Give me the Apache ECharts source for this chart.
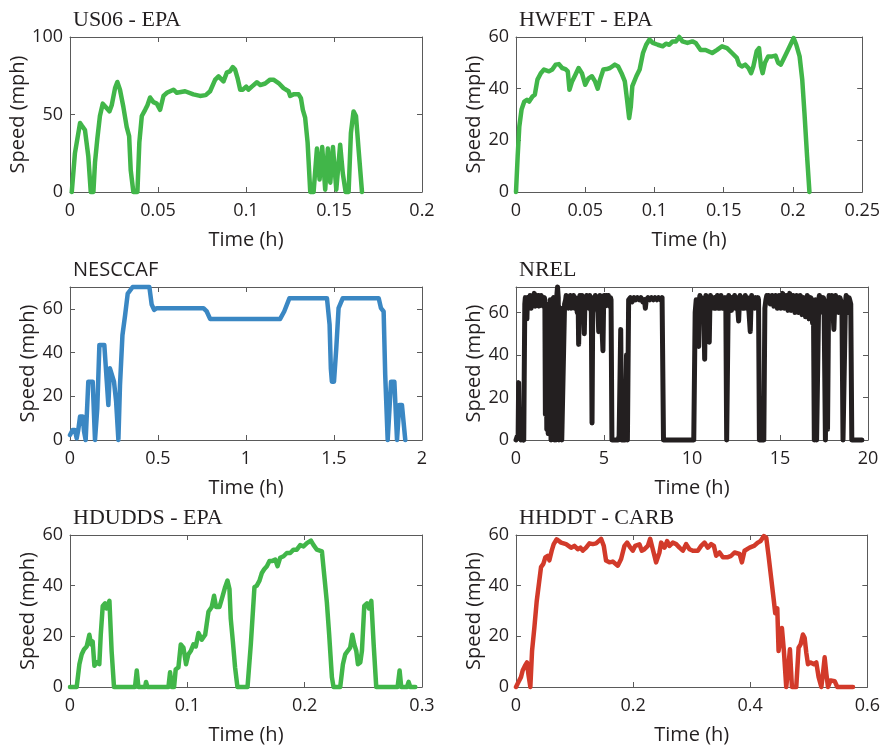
<!DOCTYPE html>
<html>
<head>
<meta charset="utf-8">
<script src="https://cdn.jsdelivr.net/npm/echarts@6/dist/echarts.min.js"></script>
<style>
  html, body { margin: 0; padding: 0; background: #fff; }
  #chart { width: 883px; height: 746px; }
</style>
</head>
<body>
<div id="chart"></div>
<script>
// Drive-cycle speed traces: [time (h), speed (mph)]
const us06 = [
  [0.001,0],[0.0028,25],[0.0057,44.5],[0.0066,43],[0.0085,40],[0.0095,39],[0.0104,23],[0.0118,0],[0.0133,0],
  [0.0142,19],[0.0155,34],[0.017,49],[0.0186,57],[0.0209,54],[0.0224,52],[0.0237,56],[0.0256,67],[0.0269,71],
  [0.0284,66],[0.0303,55],[0.0322,42],[0.0336,36],[0.0345,14],[0.036,0],[0.0383,0],[0.0394,32],[0.0408,49],
  [0.0427,53],[0.044,56],[0.0455,61],[0.0474,58],[0.0493,57],[0.0512,53],[0.0531,62],[0.055,64],[0.0588,66],
  [0.0607,64],[0.0654,65],[0.0701,63],[0.0739,62],[0.0771,62.5],[0.0796,65],[0.0825,72.5],[0.0844,74.6],
  [0.0872,71.4],[0.0891,77],[0.091,78],[0.0925,80.6],[0.0938,79],[0.0952,73.5],[0.0967,66],[0.0982,66],
  [0.1001,68],[0.1014,66],[0.1033,68],[0.1062,70.8],[0.1081,69],[0.1109,70],[0.1137,72.5],[0.1156,72.5],
  [0.1185,70.3],[0.1213,67],[0.1242,65],[0.1251,62],[0.127,63],[0.1299,63],[0.1312,60.6],[0.1323,53],
  [0.1336,48],[0.135,32],[0.1365,0],[0.1384,0],[0.1403,28],[0.1418,8],[0.1433,29],[0.145,1.5],[0.1465,28],
  [0.1479,6],[0.1494,29],[0.1513,1.5],[0.1535,30.5],[0.155,12],[0.1566,0],[0.1583,0],[0.1596,38],[0.1611,52],
  [0.1625,49],[0.164,27],[0.1659,0]
];

const hwfet = [
  [0,0],[0.0012,13.8],[0.0024,25.4],[0.004,31.9],[0.006,35],[0.0079,35.7],[0.0095,35],[0.0119,37],[0.0136,37.7],
  [0.0155,43.5],[0.0179,46],[0.0202,47.4],[0.0238,46.7],[0.0262,47.4],[0.0286,49.3],[0.031,49.5],[0.0333,48],
  [0.0357,47.6],[0.0374,46.7],[0.0386,39.6],[0.0405,42.8],[0.0429,45.4],[0.0452,48],[0.0476,46],[0.05,41.5],
  [0.0524,44],[0.0548,44.8],[0.0571,42.8],[0.059,40],[0.0607,43.5],[0.0631,47.4],[0.0655,47.6],[0.0679,48],
  [0.0714,49.3],[0.0738,48.6],[0.0762,46],[0.0786,42.8],[0.0802,35.7],[0.0817,28.6],[0.0829,33],[0.084,41],
  [0.0869,44.8],[0.0893,47.4],[0.0917,53.8],[0.094,57],[0.0964,59],[0.0988,57.7],[0.1024,57],[0.106,56.4],
  [0.1083,57.4],[0.1107,57],[0.1131,58.3],[0.1155,58.3],[0.1179,60],[0.1202,58.3],[0.1238,57.7],[0.1274,58.3],
  [0.1298,57.7],[0.1333,55],[0.1369,55],[0.1417,53.8],[0.1452,55],[0.1488,56.4],[0.1524,55.7],[0.156,53.8],
  [0.1595,51.9],[0.1612,49.3],[0.1631,48.6],[0.1655,49.3],[0.1679,48],[0.1698,46],[0.1714,48.6],[0.1738,54.5],
  [0.1755,55.7],[0.1769,48.6],[0.1781,46],[0.1798,50],[0.1821,52.5],[0.185,52.5],[0.1874,52.8],[0.1893,50],
  [0.1912,49.3],[0.1936,51.9],[0.1964,55],[0.1988,57.7],[0.2005,59.6],[0.2024,57],[0.2048,52.5],[0.2067,43.5],
  [0.2083,30.6],[0.2102,13.8],[0.2119,0]
];

const nesccaf = [
  [0,2.3],[0.015,4.6],[0.028,4.6],[0.038,0.8],[0.047,4.6],[0.057,10.7],[0.072,10.7],[0.08,3.8],[0.089,0],
  [0.104,26.7],[0.129,26.7],[0.142,0],[0.155,14.5],[0.167,43.5],[0.195,43.5],[0.209,26.7],[0.218,16],
  [0.227,32.8],[0.237,32.8],[0.25,26.7],[0.262,17.6],[0.275,0],[0.284,25],[0.298,48],[0.313,57],[0.328,67],
  [0.356,70],[0.451,70],[0.464,62],[0.478,59.5],[0.493,60.3],[0.758,60.3],[0.777,58.8],[0.796,55.4],
  [1.194,55.4],[1.217,58.8],[1.247,64.9],[1.46,64.9],[1.475,52.7],[1.482,32.8],[1.488,26.7],[1.5,26.7],
  [1.513,42],[1.526,60.3],[1.55,64.9],[1.754,64.9],[1.767,60.3],[1.782,58.8],[1.791,29.8],[1.805,0],
  [1.824,26.7],[1.843,26.7],[1.858,0],[1.871,16],[1.886,16],[1.905,0]
];

const nrel = [
  [0,0],[0.08,2],[0.12,1],[0.15,27],[0.19,2],[0.28,0],[0.36,1],[0.44,0],
  [0.5,64],[0.53,67],[0.56,62],[0.59,66],[0.62,57],[0.65,67],[0.68,64],[0.71,67],[0.74,63],[0.77,66],[0.8,68],
  [0.83,64],[0.86,62],[0.89,67],[0.92,65],[0.95,68],[0.98,65],[1.01,67],[1.04,69],[1.07,64],[1.1,63],[1.13,67],
  [1.16,66],[1.19,68],[1.22,64],[1.25,67],[1.28,68],[1.31,63],[1.34,65],[1.37,67],[1.4,66],[1.43,68],[1.46,64],
  [1.49,66],[1.52,67],[1.55,63],[1.58,65],[1.61,67],
  [1.64,66],[1.67,12],[1.71,60],[1.75,5],[1.79,62],[1.83,3],[1.87,64],[1.91,30],[1.95,66],[1.99,0],[2.04,0],
  [2.08,66],[2.13,67],[2.18,0],[2.23,65],[2.27,0],[2.32,68],[2.36,72],[2.4,67],[2.44,0],[2.5,0],[2.55,62],
  [2.6,0],[2.7,0],[2.76,64],
  [2.82,66],[2.85,68],[2.88,63],[2.91,66],[2.94,67],[2.97,62],[3.0,64],[3.03,67],[3.06,66],[3.09,68],[3.12,62],
  [3.15,66],[3.18,67],[3.21,63],[3.24,65],[3.27,68],[3.3,67],[3.33,62],[3.36,64],[3.39,67],[3.42,67],[3.45,63],
  [3.48,60],[3.53,66],[3.56,45],[3.6,64],[3.63,68],[3.66,67],[3.69,62],[3.72,65],[3.75,68],[3.78,67],[3.81,63],
  [3.84,62],[3.88,50],[3.92,66],[3.95,63],[3.98,67],[4.01,68],[4.04,64],[4.07,66],[4.1,67],[4.13,62],[4.16,65],
  [4.19,68],[4.22,67],[4.25,63],[4.28,60],[4.32,8],[4.36,62],[4.39,66],[4.42,67],[4.45,62],[4.48,65],[4.51,68],
  [4.54,67],[4.57,64],[4.6,63],[4.66,60],[4.7,51],[4.74,64],[4.77,68],[4.8,67],[4.83,63],[4.86,58],[4.94,42],
  [4.98,65],[5.01,68],[5.04,67],[5.07,63],[5.1,65],[5.13,68],[5.16,67],[5.19,64],[5.22,66],[5.25,68],[5.28,67],
  [5.31,63],[5.34,65],[5.37,67],[5.4,66],[5.45,0],
  [5.8,0],[5.86,2],[5.95,52],[6.0,0],[6.2,0],[6.28,40],[6.33,0],[6.4,66],[6.5,67],[6.6,65],[6.7,67],[6.8,66],
  [6.9,67],[7.0,66],[7.1,67],[7.2,65],[7.3,66],[7.35,62],[7.4,66],[7.5,67],[7.6,66],[7.7,67],[7.8,66],[7.9,67],
  [8.0,66],[8.1,67],[8.2,66],[8.3,67],[8.38,0],
  [10.1,0],[10.18,60],[10.24,66],[10.3,60],[10.38,44],[10.42,66],[10.45,68],[10.48,62],[10.51,66],[10.54,67],
  [10.57,63],[10.6,61],[10.66,66],[10.72,38],[10.76,64],[10.79,68],[10.82,67],[10.85,63],[10.88,62],[10.91,67],
  [10.94,66],[10.98,46],[11.02,65],[11.05,68],[11.08,67],[11.11,62],[11.14,63],[11.17,67],[11.2,67],[11.23,63],
  [11.26,62],[11.29,67],[11.32,66],[11.35,62],[11.38,64],[11.41,67],[11.44,68],[11.47,63],[11.5,62],[11.53,67],
  [11.56,67],[11.59,62],[11.62,64],[11.65,68],[11.68,67],[11.71,63],[11.74,62],[11.77,67],[11.8,66],[11.83,62],
  [11.86,64],[11.89,67],[11.92,66],[11.97,0],[12.02,0],[12.06,66],[12.09,68],[12.12,63],[12.15,66],[12.18,67],
  [12.21,63],[12.24,61],[12.27,67],[12.3,66],[12.33,62],[12.36,64],[12.39,67],[12.42,68],[12.45,63],[12.48,62],
  [12.51,66],[12.54,67],[12.57,63],[12.6,62],[12.65,56],[12.7,66],[12.73,68],[12.76,63],[12.79,66],[12.82,67],
  [12.85,63],[12.88,62],[12.91,67],[12.94,66],[12.97,62],[13.0,64],[13.03,68],[13.06,67],[13.09,63],[13.12,62],
  [13.15,67],[13.18,66],[13.21,63],[13.24,60],[13.31,51],[13.36,65],[13.39,68],[13.42,67],[13.45,63],[13.48,64],
  [13.51,67],[13.54,66],[13.57,62],[13.6,63],[13.63,67],[13.66,67],[13.69,63],[13.72,65],[13.75,67],[13.78,66],
  [13.83,0],[14.08,0],[14.14,62],[14.2,66],
  [14.25,68],[14.3,65],[14.35,68],[14.4,67],[14.45,64],[14.5,66],[14.55,68],[14.6,67],[14.65,63],[14.7,65],
  [14.75,68],[14.8,67],[14.85,62],[14.9,64],[14.95,68],[15.0,67],[15.05,62],[15.1,65],[15.15,69],[15.2,68],
  [15.25,62],[15.3,63],[15.35,68],[15.4,67],[15.45,61],[15.5,64],[15.55,69],[15.6,69],[15.65,61],[15.7,62],
  [15.75,68],[15.8,67],[15.85,60],[15.9,63],[15.95,68],[16.0,68],[16.05,60],[16.1,61],[16.15,68],[16.2,67],
  [16.25,59],[16.3,60],[16.35,67],[16.4,66],[16.45,58],[16.5,59],[16.55,68],[16.6,67],[16.65,57],[16.7,58],
  [16.75,67],[16.8,66],[16.85,55],[16.9,64],[16.95,0],[17.02,66],
  [17.08,0],[17.14,0],[17.2,66],[17.24,68],[17.28,60],[17.31,66],[17.35,67],[17.38,61],[17.42,62],[17.46,67],
  [17.5,66],[17.58,0],[17.64,64],[17.7,5],[17.76,63],[17.79,68],[17.82,67],[17.86,61],[17.9,62],[17.94,68],
  [17.98,66],[18.06,52],[18.12,66],[18.16,68],[18.2,61],[18.24,66],[18.28,67],[18.32,60],[18.36,60],[18.4,67],
  [18.44,66],[18.48,61],[18.52,62],[18.58,0],[18.66,0],[18.72,65],[18.76,68],[18.8,67],[18.84,61],[18.88,60],
  [18.92,67],[18.96,66],[19.02,64],[19.08,0],[19.65,0]
];

const hdudds = [
  [0,0],[0.0057,0],[0.008,9],[0.01,12.9],[0.0119,14.8],[0.0142,16],[0.0165,20.6],[0.018,16.8],[0.0193,18],
  [0.0208,8.4],[0.0227,9.7],[0.025,9],[0.0262,20.6],[0.0279,32],[0.0299,33],[0.0313,31],[0.0336,34],
  [0.0355,14],[0.0375,0],[0.0483,0],[0.0498,0.6],[0.0512,0],[0.0554,0],[0.0569,6.5],[0.0583,0],[0.064,0],
  [0.0648,2],[0.066,0],[0.0839,0],[0.0853,5.8],[0.0867,0],[0.0887,0],[0.0901,7],[0.0924,7.7],[0.0944,16.8],
  [0.0967,15.5],[0.0989,9],[0.1009,12.9],[0.1029,14.2],[0.1052,16.8],[0.1072,16],[0.1095,21.3],[0.1123,18.7],
  [0.1152,20.6],[0.118,29.7],[0.1208,31.6],[0.1228,36],[0.1245,31.6],[0.1274,31.6],[0.1294,34.8],[0.1322,39.4],
  [0.1342,42],[0.1359,38.7],[0.137,27],[0.1388,18],[0.1407,7.7],[0.1427,0],[0.1513,0],[0.1541,16.8],
  [0.1572,39.4],[0.1592,40],[0.1615,42],[0.1635,45],[0.1655,46.5],[0.1678,47.7],[0.17,49.7],[0.172,49.7],
  [0.1749,50.3],[0.1769,47.7],[0.1791,51],[0.182,51.6],[0.1848,52.9],[0.1877,52.9],[0.1905,54.2],[0.1933,54.2],
  [0.1962,56],[0.199,55.5],[0.2019,56.8],[0.2053,57.8],[0.2076,56],[0.2104,54.2],[0.2147,53.5],[0.217,42.6],
  [0.2189,33.5],[0.2209,20.6],[0.2232,3.9],[0.2246,0],[0.2303,0],[0.2326,9],[0.2346,12.9],[0.2366,14.2],
  [0.2388,15.5],[0.2406,20.6],[0.2423,16.8],[0.244,14.2],[0.2454,9],[0.2474,9.7],[0.2488,14.2],[0.2508,32],
  [0.2531,33],[0.2548,31],[0.2568,34],[0.2588,16.8],[0.261,0],[0.2715,0],[0.273,0.6],[0.2744,0],[0.2792,0],
  [0.2809,6.5],[0.2823,0],[0.2872,0],[0.2886,2],[0.29,0],[0.2943,0]
];

const hhddt = [
  [0,0],[0.004,1.9],[0.0085,3.9],[0.0114,6.5],[0.0154,8.4],[0.0188,9.7],[0.0211,5.2],[0.0245,0],[0.0274,14.2],
  [0.0313,23.3],[0.0353,33.7],[0.0387,40],[0.0427,47.3],[0.0467,48.6],[0.0501,51.2],[0.0541,51.8],[0.057,50],
  [0.061,53.8],[0.0644,56.4],[0.0695,58.3],[0.0769,57],[0.0855,56.4],[0.094,55],[0.0997,55.7],[0.1054,54.4],
  [0.11,55],[0.114,53.8],[0.1197,55],[0.1254,56.7],[0.1311,56.4],[0.1368,56.7],[0.1453,58.5],[0.1499,55.7],
  [0.1538,49.9],[0.1595,49.2],[0.1652,49.5],[0.1738,47.9],[0.1795,50.5],[0.1852,55.7],[0.1897,57],[0.1954,55],
  [0.1994,53.8],[0.2034,55.7],[0.2108,56.3],[0.2148,53.8],[0.2194,54.4],[0.2251,55.7],[0.2291,58.5],[0.2336,54.4],
  [0.2393,49.2],[0.245,53.1],[0.2479,57],[0.2536,55],[0.2581,57.6],[0.2621,55.7],[0.2678,57],[0.2735,56.4],
  [0.2792,55],[0.2849,53.8],[0.2906,56.4],[0.2963,54.4],[0.302,53.8],[0.3105,53.8],[0.3162,55.7],[0.3219,57],
  [0.3276,55],[0.3333,56.4],[0.3379,55.7],[0.3419,51.8],[0.3476,53.1],[0.3533,51.2],[0.3607,51.2],[0.3675,51.8],
  [0.3732,53.1],[0.3818,52.5],[0.3858,49.2],[0.3903,53.8],[0.3989,55],[0.4063,55.7],[0.4131,57],[0.4177,57.6],
  [0.4234,59.6],[0.4274,58.9],[0.4313,51.8],[0.4359,42.7],[0.4405,33.7],[0.4427,29.1],[0.4462,31.1],[0.4484,14.2],
  [0.4507,18.1],[0.4541,23.3],[0.4575,14.2],[0.4615,0],[0.4655,9],[0.4678,14.9],[0.4712,0],[0.4786,0],
  [0.4826,15.5],[0.486,16.8],[0.49,20.7],[0.4929,19.4],[0.4957,13.6],[0.4986,9],[0.5031,9.7],[0.5088,9],
  [0.5128,9.7],[0.5168,3.9],[0.5214,0],[0.5242,5.2],[0.5271,11.7],[0.53,5.2],[0.5328,0],[0.5373,2.6],
  [0.5442,2.3],[0.5487,0],[0.5755,0]
];

// Panel titles and axis ranges [min, max, interval]
const titles = ['US06 - EPA', 'HWFET - EPA', 'NESCCAF', 'NREL', 'HDUDDS - EPA', 'HHDDT - CARB'];
const xRanges = [[0, 0.2, 0.05], [0, 0.25, 0.05], [0, 2, 0.5], [0, 20, 5], [0, 0.3, 0.1], [0, 0.6, 0.2]];
const yRanges = [[0, 100, 50], [0, 60, 20], [0, 70, 20], [0, 72, 20], [0, 60, 20], [0, 60, 20]];
const traces = [us06, hwfet, nesccaf, nrel, hdudds, hhddt];

const GREEN = '#41b649', BLUE = '#3a87c3', BLACK = '#231f20', RED = '#d23a2a';
const colors = [GREEN, GREEN, BLUE, BLACK, GREEN, RED];
const titleFonts = ['Liberation Serif', 'Liberation Serif', 'Open Sans', 'Liberation Serif', 'Liberation Serif', 'Liberation Serif'];
const titleSizes = [22, 22, 20, 22, 22, 22];

// Plot boxes [left, top, width, height]
const boxes = [
  [70, 37, 352, 155], [516, 37, 351, 155],
  [70, 287, 352, 153], [516, 287, 352, 153],
  [70, 535, 352, 155], [516, 535, 352, 155]
];

const AXIS_COLOR = '#5a5a5a';
const LABEL_COLOR = '#231f20';
const SANS = 'Open Sans';

const grid = [], xAxis = [], yAxis = [], series = [], title = [];

boxes.forEach((b, i) => {
  grid.push({ left: b[0], top: b[1], width: b[2], height: b[3], containLabel: false });
  title.push({
    text: titles[i], left: b[0] + 3, top: b[1] - 29, padding: 0,
    textStyle: { fontFamily: titleFonts[i], fontSize: titleSizes[i], fontWeight: 'normal', color: LABEL_COLOR, lineHeight: 24 }
  });
  const [xmin, xmax, xint] = xRanges[i];
  const [ymin, ymax, yint] = yRanges[i];
  const tick = { show: true, inside: true, length: 5, lineStyle: { color: AXIS_COLOR, width: 1 } };
  const line = { show: true, onZero: false, lineStyle: { color: AXIS_COLOR, width: 1 } };
  xAxis.push({
    gridIndex: i, type: 'value', position: 'bottom', min: xmin, max: xmax, interval: xint,
    axisLine: line, axisTick: tick, splitLine: { show: false },
    axisLabel: { color: LABEL_COLOR, fontFamily: SANS, fontSize: 18, margin: 10 },
    name: 'Time (h)', nameLocation: 'middle', nameGap: 38,
    nameTextStyle: { color: LABEL_COLOR, fontFamily: SANS, fontSize: 20 }
  });
  xAxis.push({
    gridIndex: i, type: 'value', position: 'top', min: xmin, max: xmax, interval: xint,
    axisLine: line, axisTick: tick, splitLine: { show: false }, axisLabel: { show: false }
  });
  yAxis.push({
    gridIndex: i, type: 'value', position: 'left', min: ymin, max: ymax, interval: yint,
    axisLine: line, axisTick: tick, splitLine: { show: false },
    axisLabel: { color: LABEL_COLOR, fontFamily: SANS, fontSize: 18, margin: 7, showMaxLabel: (ymax % yint === 0) },
    name: 'Speed (mph)', nameLocation: 'middle', nameGap: 31,
    nameTextStyle: { color: LABEL_COLOR, fontFamily: SANS, fontSize: 20 }
  });
  yAxis.push({
    gridIndex: i, type: 'value', position: 'right', min: ymin, max: ymax, interval: yint,
    axisLine: line, axisTick: tick, splitLine: { show: false }, axisLabel: { show: false }
  });
  series.push({
    type: 'line', xAxisIndex: 2 * i, yAxisIndex: 2 * i, data: traces[i],
    showSymbol: false, clip: false, silent: true,
    lineStyle: { color: colors[i], width: i === 3 ? 5 : 4.5, cap: 'round', join: 'round' }
  });
});

const chart = echarts.init(document.getElementById('chart'), null, { renderer: 'canvas' });
chart.setOption({ animation: false, backgroundColor: '#fff', title, grid, xAxis, yAxis, series });
</script>
</body>
</html>
